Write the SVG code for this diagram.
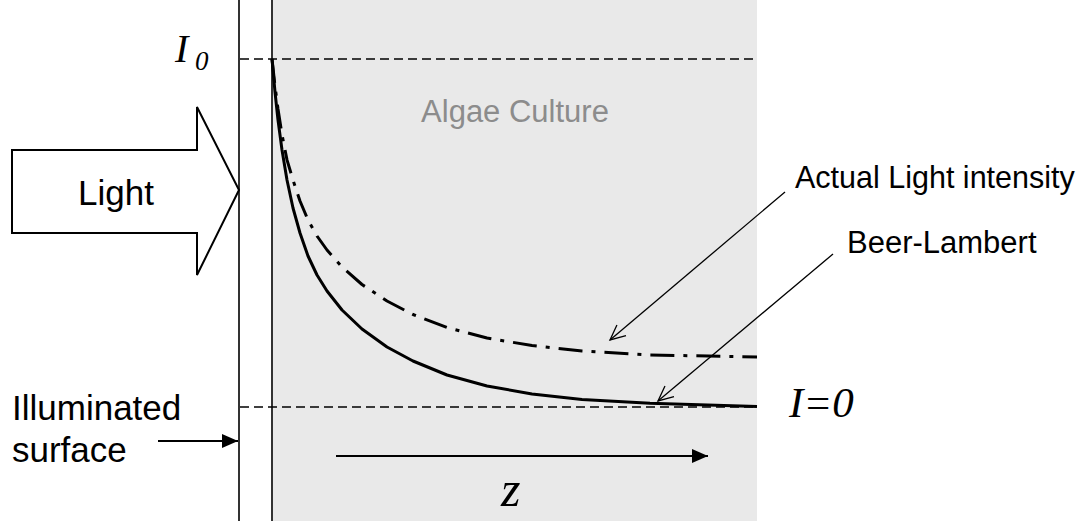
<svg xmlns="http://www.w3.org/2000/svg" width="1083" height="521" viewBox="0 0 1083 521">
<style>
.sans{font-family:"Liberation Sans",Arial,sans-serif;fill:#000}
.serif{font-family:"Liberation Serif","Times New Roman",serif;font-style:italic;fill:#000}
.wall{stroke:#333;stroke-width:2;fill:none}
.dash{stroke:#000;stroke-width:1.6;stroke-dasharray:9 5;fill:none}
.thin{stroke:#000;stroke-width:1.3;fill:none}
</style>
<defs>
<marker id="open" markerUnits="userSpaceOnUse" markerWidth="20" markerHeight="20" refX="16" refY="8" orient="auto">
<path d="M1,1 L16,8 L1,15" fill="none" stroke="#000" stroke-width="1.3"/>
</marker>
<marker id="filled" markerUnits="userSpaceOnUse" markerWidth="20" markerHeight="16" refX="16" refY="7" orient="auto">
<path d="M0,0 L16,7 L0,14 Z" fill="#000"/>
</marker>
</defs>
<rect width="1083" height="521" fill="#fff"/>
<g id="culture">
<rect x="272" y="0" width="485" height="521" fill="#e9e9e9"/>
<text class="sans" x="515" y="122" font-size="31" text-anchor="middle" style="fill:#8c8c8c">Algae Culture</text>
</g>
<g id="walls">
<line class="wall" x1="239" y1="0" x2="239" y2="521"/>
<line class="wall" x1="272" y1="0" x2="272" y2="521"/>
</g>
<g id="levels">
<line class="dash" x1="240" y1="59" x2="757" y2="59"/>
<line class="dash" x1="240" y1="407" x2="757" y2="407"/>
<text class="serif" x="175" y="62" font-size="40">I</text>
<text class="serif" x="195" y="70" font-size="27">0</text>
<text class="serif" x="789" y="417" font-size="43">I=0</text>
</g>
<g id="light">
<polygon points="12,150 197,150 197,107 239,190 197,275 197,233 12,233" fill="#fff" stroke="#000" stroke-width="2"/>
<text class="sans" x="116" y="205" font-size="35" text-anchor="middle">Light</text>
</g>
<g id="curves">
<polyline fill="none" stroke="#000" stroke-width="3" stroke-linejoin="round" stroke-dasharray="24 9 4 9" points="272,59 275,86 278,109 282,134.6 287,159.9 293,180 300,201 308,220 317,236 327,250 342,267 362,284.5 387,301 413,314.5 447,327.5 487,338 532,345.6 582,350.9 650,354.9 757,357"/>
<polyline fill="none" stroke="#000" stroke-width="3" stroke-linejoin="round" points="272,59 275,92 278,120 282,150 287,180 293,208 300,233 308,256 317,275 327,291 342,310 362,329 387,347 413,361 447,375 487,386 532,394 582,399.5 650,403.2 757,406.5"/>
</g>
<g id="connectors">
<line class="thin" x1="785" y1="192" x2="610" y2="340" marker-end="url(#open)"/>
<line class="thin" x1="833" y1="254" x2="658" y2="401" marker-end="url(#open)"/>
<line stroke="#000" stroke-width="2" x1="158" y1="441" x2="238" y2="441" marker-end="url(#filled)"/>
<line stroke="#000" stroke-width="2" x1="336" y1="456" x2="708" y2="456" marker-end="url(#filled)"/>
</g>
<g id="labels">
<text class="sans" x="795" y="188" font-size="30.5">Actual Light intensity</text>
<text class="sans" x="847" y="253" font-size="31">Beer-Lambert</text>
<text class="sans" x="12" y="420" font-size="35">Illuminated</text>
<text class="sans" x="12" y="462" font-size="35">surface</text>
<text class="serif" x="501" y="506" font-size="50">z</text>
</g>
</svg>
